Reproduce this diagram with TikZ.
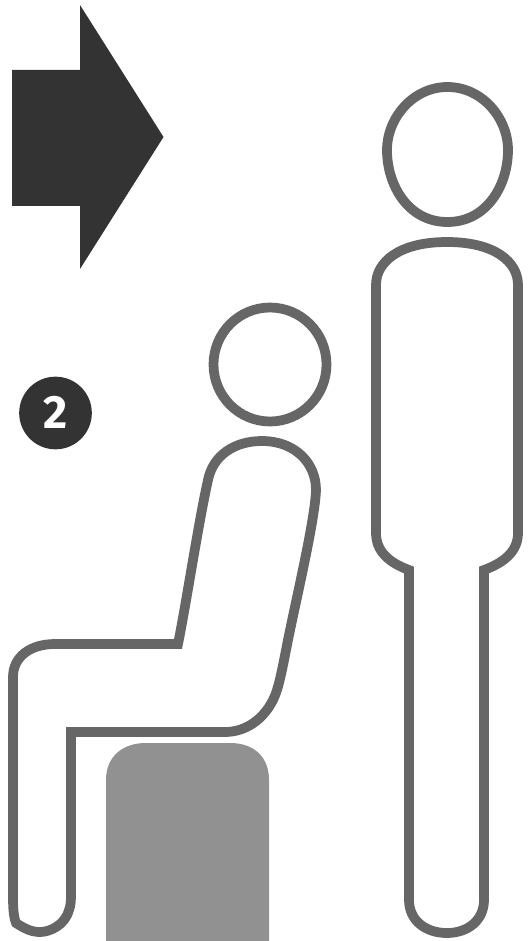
\documentclass[tikz,border=0pt]{standalone}
\usepackage{fontspec}
\setmainfont{Fira Sans}
\definecolor{outline}{HTML}{666666}
\definecolor{darkfill}{HTML}{333333}
\definecolor{stool}{HTML}{919191}
\tikzset{figure/.style={draw=outline,line width=7.3pt,line join=miter,fill=white}}
\begin{document}
\begin{tikzpicture}[x=0.75pt,y=-0.75pt]
\useasboundingbox (0,0) rectangle (528,941);
\fill[white] (0,0) rectangle (528,941);
% arrow
\fill[darkfill] (12,70) -- (80,70) -- (80,5) -- (163.5,137) -- (80,269) -- (80,206) -- (12,206) -- cycle;
% badge
\node (badge) [circle,fill=darkfill,minimum size=54.5pt,inner sep=0pt] at (55.5,413) {};
\node (badgenum) [text=white,inner sep=0pt,font=\bfseries\fontsize{35}{35}\selectfont] at (55.5,412) {2};
% stool
\fill[stool] (106,941) -- (106,780) .. controls (106,757) and (122,743) .. (146,743) -- (230,743) .. controls (254,743) and (269,757) .. (269,780) -- (269,941) -- cycle;
% standing head
\draw[figure] (447.5,87) .. controls (482,87) and (508,118) .. (508,150)
  .. controls (508,185) and (487,222) .. (447.5,222)
  .. controls (408,222) and (387,185) .. (387,150)
  .. controls (387,118) and (413,87) .. (447.5,87) -- cycle;
% standing body
\draw[figure] (447,242) .. controls (495,242) and (518,262) .. (518,285) -- (518,533)
  .. controls (518,552) and (503,563) .. (484,570) -- (484,900)
  .. controls (484,920) and (468,933) .. (447,933) .. controls (425,933) and (409,920) .. (409,900)
  -- (409,570) .. controls (390,563) and (376,552) .. (376,533) -- (376,285)
  .. controls (376,262) and (399,242) .. (447,242) -- cycle;
% seated head
\draw[figure] (270,364.5) ellipse [x radius=56.5,y radius=57];
% seated body
\draw[figure] (262,441) .. controls (295,441) and (316,463) .. (316,490)
  .. controls (315,520) and (296,600) .. (288,640)
  .. controls (282,670) and (279,688) .. (273,700)
  .. controls (263,720) and (245,732) .. (225,732)
  -- (71,732) -- (71,890)
  .. controls (71,900) and (71,905) .. (69,910)
  .. controls (65,925) and (50,932) .. (40,932)
  .. controls (32,932) and (25,929) .. (16,923)
  .. controls (13,915) and (13,905) .. (13,893)
  -- (13,677) .. controls (13,657) and (30,644) .. (55,644)
  -- (178,644)
  .. controls (186,605) and (198,525) .. (208,480)
  .. controls (213,455) and (235,441) .. (262,441) -- cycle;
\end{tikzpicture}
\end{document}
